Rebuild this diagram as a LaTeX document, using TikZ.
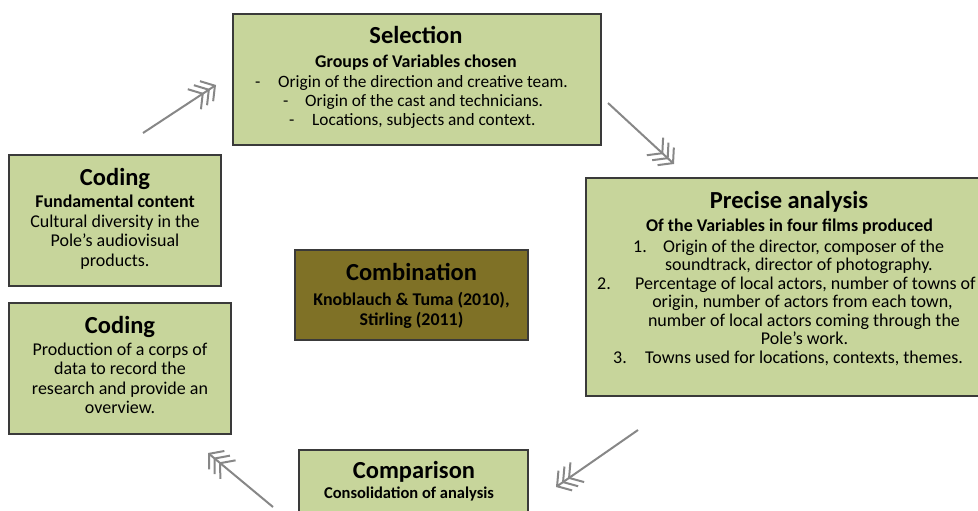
\documentclass[tikz,border=0pt]{standalone}
\usepackage{fontspec}
\setmainfont{Carlito}
\usetikzlibrary{arrows.meta,shadows}
\definecolor{boxfill}{HTML}{C7D59B}
\definecolor{combfill}{HTML}{7F7126}
\definecolor{boxline}{HTML}{3A3A3A}
\definecolor{arrowgray}{HTML}{878787}
\begin{document}
\begin{tikzpicture}[x=1pt,y=-1pt,
  box/.style={draw=boxline, line width=1.2pt, fill=boxfill, inner sep=0pt,
    drop shadow={shadow xshift=1.3pt, shadow yshift=-1.3pt, fill=black!60, opacity=1}},
  ttl/.style={font=\bfseries\fontsize{24.5}{28}\selectfont, anchor=base, inner sep=0pt},
  sub/.style={font=\bfseries\fontsize{17.9}{20}\selectfont, anchor=base, inner sep=0pt},
  subs/.style={sub, font=\bfseries\fontsize{16.5}{19}\selectfont},
  bod/.style={font=\fontsize{18}{20}\selectfont, anchor=base, inner sep=0pt},
  bods/.style={bod, font=\fontsize{17.3}{19}\selectfont},
  bodw/.style={bod, anchor=base west},
  bodsw/.style={bods, anchor=base west},
  flow/.style={draw=arrowgray, line width=2pt,
    -{Straight Barb[length=10pt,width=24pt,sep=-5pt]Straight Barb[length=10pt,width=24pt,sep=-5pt]Straight Barb[length=10pt,width=24pt]}}
]
\useasboundingbox (0,0) rectangle (978,511);
\clip (0,0) rectangle (978,511);

% boxes
\node[box, minimum width=368pt, minimum height=131pt] (sel) at (417,79.5) {};
\node[box, minimum width=406pt, minimum height=218pt] (prec) at (789,287) {};
\node[box, minimum width=212pt, minimum height=131pt] (cod1) at (115,220.5) {};
\node[box, minimum width=222pt, minimum height=131pt] (cod2) at (120,368.5) {};
\node[box, fill=combfill, minimum width=233pt, minimum height=90pt] (comb) at (411.5,295) {};
\node[box, minimum width=229pt, minimum height=110pt] (comp) at (413.5,505) {};

% Selection
\node[ttl] (selT) at (416,44) {Selection};
\node[sub] (selS) at (416,67) {Groups of Variables chosen};
\node[bodsw] (selD1) at (255,88) {-};
\node[bodsw] (selL1) at (278,88) {Origin of the direction and creative team.};
\node[bodsw] (selD2) at (283,106.5) {-};
\node[bodsw] (selL2) at (305,106.5) {Origin of the cast and technicians.};
\node[bodsw] (selD3) at (289,125) {-};
\node[bodsw] (selL3) at (312,125) {Locations, subjects and context.};

% Precise analysis
\node[ttl] (precT) at (789,208) {Precise analysis};
\node[sub] (precS) at (789.5,231.5) {Of the Variables in four films produced};
\node[bodw] (precN1) at (633,252) {1.};
\node[bodw] (precL1) at (663,252) {Origin of the director, composer of the};
\node[bod] (precL1b) at (799,270.5) {soundtrack, director of photography.};
\node[bodw] (precN2) at (597,289) {2.};
\node[bodw] (precL2) at (635,289) {Percentage of local actors, number of towns of};
\node[bod] (precL2b) at (802.5,307.5) {origin, number of actors from each town,};
\node[bod] (precL2c) at (804,326) {number of local actors coming through the};
\node[bod] (precL2d) at (804.5,344.5) {Pole’s work.};
\node[bodw] (precN3) at (613,363) {3.};
\node[bodw] (precL3) at (645,363) {Towns used for locations, contexts, themes.};

% Coding 1
\node[ttl] (cod1T) at (115,185) {Coding};
\node[sub] (cod1S) at (115,207) {Fundamental content};
\node[bod] (cod1L1) at (115,227) {Cultural diversity in the};
\node[bod] (cod1L2) at (115,246.5) {Pole’s audiovisual};
\node[bod] (cod1L3) at (115,266) {products.};

% Coding 2
\node[ttl] (cod2T) at (120,333) {Coding};
\node[bod] (cod2L1) at (120,355) {Production of a corps of};
\node[bod] (cod2L2) at (120,374.5) {data to record the};
\node[bod] (cod2L3) at (120,394) {research and provide an};
\node[bod] (cod2L4) at (120,413.5) {overview.};

% Combination
\node[ttl] (combT) at (411.5,280) {Combination};
\node[sub] (combS1) at (411.5,305) {Knoblauch \& Tuma (2010),};
\node[sub] (combS2) at (411.5,325) {Stirling (2011)};

% Comparison
\node[ttl] (compT) at (414,478) {Comparison};
\node[subs] (compS) at (409,498) {Consolidation of analysis};

% arrows
\coordinate (a1s) at (143,133); \coordinate (a1e) at (216,85);
\coordinate (a2s) at (608,103); \coordinate (a2e) at (674,164);
\coordinate (a3s) at (638,430); \coordinate (a3e) at (556,487);
\coordinate (a4s) at (273,507); \coordinate (a4e) at (208,453);
\draw[flow] (a1s) -- (a1e);
\draw[flow] (a2s) -- (a2e);
\draw[flow] (a3s) -- (a3e);
\draw[flow] (a4s) -- (a4e);
\end{tikzpicture}
\end{document}
